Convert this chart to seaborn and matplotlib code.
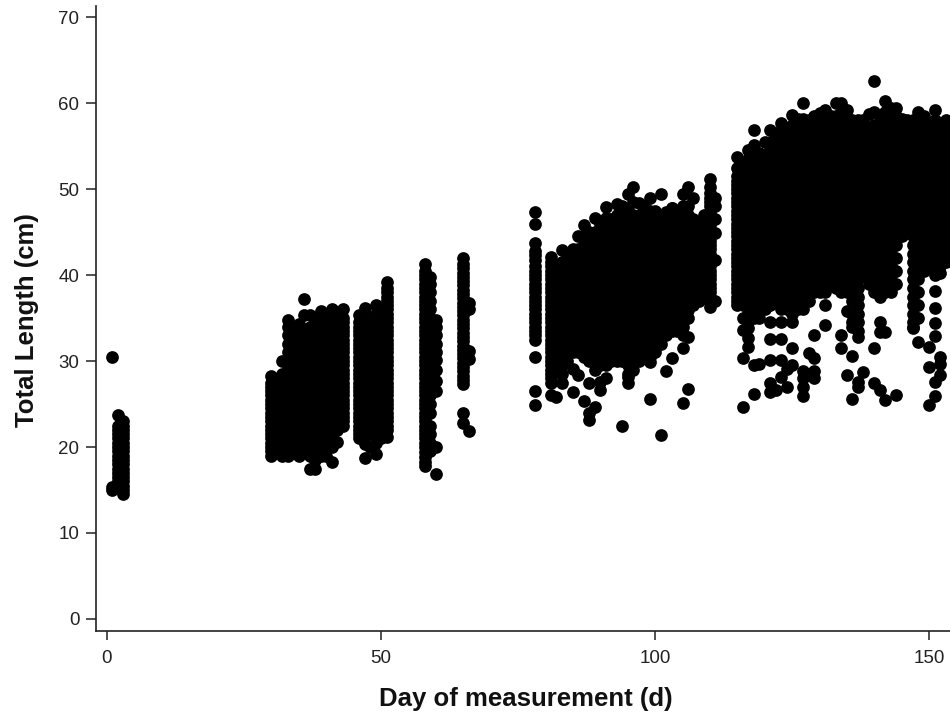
import pandas as pd
import matplotlib
matplotlib.use('Agg')
import matplotlib.pyplot as plt
import seaborn as sns

days_early = [2, 3, 30, 32, 33, 35, 37, 39, 41, 43]
lengths_early = [
    [15.5, 16, 16.5, 17, 17.5, 18, 18.5, 19, 19.5, 20, 20.5, 21, 21.5, 22, 22.5, 23.7],
    [14.5, 15, 15.5, 16, 16.5, 17, 17.5, 18, 18.5, 19, 19.5, 20, 20.5, 21, 21.5, 22, 22.5, 23],
    [19, 19.5, 20, 20.5, 21, 21.5, 22, 22.5, 23, 23.5, 24, 24.5, 25, 25.5, 26, 26.5, 27, 27.5, 28.3],
    [19, 19.5, 20.5, 21.5, 22.5, 23.5, 24.5, 25.5, 26.5, 27.5, 28.5, 30],
    [19, 20, 21, 22, 23, 24, 25, 26, 27, 28, 29, 30, 31, 32, 33, 34, 34.8],
    [19, 19.5, 20.5, 21.5, 22.5, 23.5, 24.5, 25.5, 26.5, 27.5, 28.5, 29.5, 30.5, 31.5, 32.5, 33.5, 34.3],
    [17.4, 19, 20, 21, 22, 23, 24, 25, 26, 27, 28, 29, 30, 31, 32, 33, 34, 35.3],
    [19, 19.5, 20.5, 21.5, 22.5, 23.5, 24.5, 25.5, 26.5, 27.5, 28.5, 29.5, 30.5, 31.5, 32.5, 33.5, 34.5, 35.8],
    [18.3, 20, 21, 22, 23, 24, 25, 26, 27, 28, 29, 30, 31, 32, 33, 34, 35, 36],
    [22.5, 23, 23.5, 24, 24.5, 25, 25.5, 26, 26.5, 27, 27.5, 28, 28.5, 29, 29.5, 30, 30.5, 31, 31.5, 32, 32.5, 33, 33.5, 34, 34.5, 35, 36],
]
days_early_fill = [31, 34, 36, 38, 40, 42]
lengths_early_fill = [
    [20, 21.5, 23, 24.5, 26, 27.5],
    [20, 21.5, 23, 24.5, 26, 27.5, 29, 30.5, 32, 33.5],
    [20, 21.5, 23, 24.5, 26, 27.5, 29, 30.5, 32, 33.5, 35.3],
    [17.4, 18.5, 20, 21.5, 23, 24.5, 26, 27.5, 29, 30.5, 32, 33.5, 35],
    [19, 20.5, 22, 23.5, 25, 26.5, 28, 29.5, 31, 32.5, 34, 35.5],
    [20.6, 22, 23.5, 25, 26.5, 28, 29.5, 31, 32.5, 34, 35.5],
]

days_mid = [46, 47, 49, 51, 58, 59, 60, 65, 66, 78]
lengths_mid = [
    [21, 21.5, 22, 22.5, 23, 23.5, 24, 24.5, 25, 25.5, 26, 26.5, 27, 27.5, 28, 28.5, 29, 29.5, 30, 30.5, 31, 31.5, 32, 32.5, 33, 33.5, 34, 34.5, 35.4],
    [18.7, 20.3, 21.5, 22.5, 23.5, 24.5, 25.5, 26.5, 27.5, 28.5, 29.5, 30.5, 31.5, 32.5, 33.5, 34.5, 36.2],
    [19.2, 20.5, 22, 23, 24, 25, 26, 27, 28, 29, 30, 31, 32, 33, 34, 35.5, 36.5],
    [21.2, 22, 22.5, 23, 23.5, 24, 24.5, 25, 25.5, 26, 26.5, 27, 27.5, 28, 28.5, 29, 29.5, 30, 30.5, 31, 31.5, 32, 32.5, 33, 33.5, 34, 34.5, 35, 35.5, 36, 36.5, 37, 37.5, 38, 38.5, 39.2],
    [17.8, 18.3, 18.8, 19.4, 20, 20.5, 21, 21.5, 22, 22.5, 23, 23.5, 24, 24.5, 25, 25.5, 26, 26.5, 27, 27.5, 28, 28.5, 29, 29.5, 30, 30.5, 31, 31.5, 32, 32.5, 33, 33.5, 34, 34.5, 35, 35.5, 36, 36.5, 37, 37.5, 38, 38.5, 39, 39.5, 40, 40.5, 41.3],
    [19.5, 20.5, 21.5, 22.5, 24, 25, 26, 27, 28, 29, 30, 31, 32, 33, 34, 35, 36, 37, 38, 39, 39.8],
    [16.9, 20, 26.5, 27.7, 29, 30.1, 31, 32, 33, 34, 34.8],
    [22.8, 23.9, 27.3, 27.8, 28.3, 28.8, 29.3, 29.8, 30.3, 30.8, 31.3, 31.8, 32.3, 32.8, 33.3, 33.8, 34.3, 34.8, 35.3, 35.8, 36.3, 36.8, 37.3, 37.8, 38.3, 38.8, 39.3, 39.8, 40.3, 40.8, 41.3, 42],
    [21.9, 30.2, 31.2, 36, 36.7],
    [24.9, 26.5, 30.5, 32.5, 33, 33.5, 34, 34.5, 35, 35.5, 36, 36.5, 37, 37.5, 38, 38.5, 39, 39.5, 40, 40.5, 41, 41.8, 42.3, 42.8, 43.7, 45.9, 47.3],
]
days_mid_fill = [48, 50]
lengths_mid_fill = [
    [20, 21.5, 23, 24.5, 26, 27.5, 29, 30.5, 32, 33.5, 35],
    [21, 22.5, 24, 25.5, 27, 28.5, 30, 31.5, 33, 34.5, 36],
]

days_late = [81, 83, 85, 87, 89, 91, 93, 95, 97, 99, 101, 103, 105, 107, 109, 110]
lengths_late = [
    [27.4, 28, 28.5, 29, 29.5, 30, 30.5, 31, 31.5, 32, 32.5, 33, 33.5, 34, 34.5, 35, 35.5, 36, 36.5, 37, 37.5, 38, 38.5, 39, 39.5, 40, 40.5, 41, 41.5, 42.1],
    [28.5, 29.5, 30.5, 31.5, 32.5, 33.5, 34.5, 35.5, 36.5, 37.5, 38.5, 39.5, 40.5, 41.5, 42.9],
    [31, 32, 33, 34, 35, 36, 37, 38, 39, 40, 41, 42, 43],
    [30.5, 31.5, 32.5, 33.5, 34.5, 35.5, 36.5, 37.5, 38.5, 39.5, 40.5, 41.5, 42.5, 43.5, 44.5, 45.8],
    [29, 30, 31, 32, 33, 34, 35, 36, 37, 38, 39, 40, 41, 42, 43, 44, 45, 46.6],
    [29.5, 30.5, 31.5, 32.5, 33.5, 34.5, 35.5, 36.5, 37.5, 38.5, 39.5, 40.5, 41.5, 42.5, 43.5, 44.5, 45.5, 46.6, 47.9],
    [30, 31, 32, 33, 34, 35, 36, 37, 38, 39, 40, 41, 42, 43, 44, 45, 46, 47, 48.3],
    [27.4, 28.5, 29.5, 30.5, 31.5, 32.5, 33.5, 34.5, 35.5, 36.5, 37.5, 38.5, 39.5, 40.5, 41.5, 42.5, 43.5, 44.5, 45.5, 46.5, 47.5, 49.4],
    [30, 31, 32, 33, 34, 35, 36, 37, 38, 39, 40, 41, 42, 43, 44, 45, 46, 47, 48.4],
    [30.5, 31.5, 32.5, 33.5, 34.5, 35.5, 36.5, 37.5, 38.5, 39.5, 40.5, 41.5, 42.5, 43.5, 44.5, 45.5, 46.5, 47.5, 49],
    [32, 33, 34, 35, 36, 37, 38, 39, 40, 41, 42, 43, 44, 45, 46, 47, 49.4],
    [33.5, 34.5, 35.5, 36.5, 37.5, 38.5, 39.5, 40.5, 41.5, 42.5, 43.5, 44.5, 45.5, 46.5, 47.8],
    [33, 34, 35, 36, 37, 38, 39, 40, 41, 42, 43, 44, 45, 46, 47, 48, 49.4],
    [36.5, 37.5, 38.5, 39.5, 40.5, 41.5, 42.5, 43.5, 44.5, 45.5, 46.5, 49],
    [38, 39, 40, 41, 42, 43, 44, 45, 46, 47],
    [36.3, 37, 37.5, 38, 38.5, 39, 39.5, 40, 40.5, 41, 41.5, 42, 42.5, 43, 43.5, 44, 44.5, 45, 45.5, 46, 46.5, 47, 47.5, 48, 48.5, 49, 49.5, 50.3, 51.2],
]
days_late_fill = [82, 84, 86, 88, 90, 92, 94, 96, 98, 100, 102, 104, 106, 108]
lengths_late_fill = [
    [29, 30.5, 32, 33.5, 35, 36.5, 38, 39.5, 41],
    [30, 31.5, 33, 34.5, 36, 37.5, 39, 40.5, 42],
    [31, 32.5, 34, 35.5, 37, 38.5, 40, 41.5, 43, 44.5],
    [30, 31.5, 33, 34.5, 36, 37.5, 39, 40.5, 42, 43.5, 45],
    [29.5, 31, 32.5, 34, 35.5, 37, 38.5, 40, 41.5, 43, 44.5, 46],
    [30, 31.5, 33, 34.5, 36, 37.5, 39, 40.5, 42, 43.5, 45, 46.5],
    [30, 31.5, 33, 34.5, 36, 37.5, 39, 40.5, 42, 43.5, 45, 46.5, 48],
    [29, 30.5, 32, 33.5, 35, 36.5, 38, 39.5, 41, 42.5, 44, 45.5, 47, 48.5],
    [30.5, 32, 33.5, 35, 36.5, 38, 39.5, 41, 42.5, 44, 45.5, 47, 48],
    [31, 32.5, 34, 35.5, 37, 38.5, 40, 41.5, 43, 44.5, 46, 47.5],
    [33, 34.5, 36, 37.5, 39, 40.5, 42, 43.5, 45, 46.5],
    [33.5, 35, 36.5, 38, 39.5, 41, 42.5, 44, 45.5, 47],
    [35, 36.5, 38, 39.5, 41, 42.5, 44, 45.5, 47, 48],
    [37, 38.5, 40, 41.5, 43, 44.5, 46],
]

days_end = [115, 117, 119, 121, 123, 125, 127, 129, 131, 133, 135, 137, 139, 141, 143, 145, 147, 149, 151, 153]
lengths_end = [
    [36.5, 37, 37.5, 38, 38.5, 39, 39.5, 40, 40.5, 41, 41.5, 42, 42.5, 43, 43.5, 44, 44.5, 45, 45.5, 46, 46.5, 47, 47.5, 48, 48.5, 49, 49.5, 50, 50.5, 51, 51.5, 52.4, 53.7],
    [33.8, 34.5, 35.5, 36.5, 37.5, 38.5, 39.5, 40.5, 41.5, 42.5, 43.5, 44.5, 45.5, 46.5, 47.5, 48.5, 49.5, 50.5, 51.5, 52.5, 53.5, 54.5],
    [35, 36, 37, 38, 39, 40, 41, 42, 43, 44, 45, 46, 47, 48, 49, 50, 51, 52, 53, 54.2],
    [36.5, 37.5, 38.5, 39.5, 40.5, 41.5, 42.5, 43.5, 44.5, 45.5, 46.5, 47.5, 48.5, 49.5, 50.5, 51.5, 52.5, 53.5, 54.5, 55.5, 56.9],
    [36, 37, 38, 39, 40, 41, 42, 43, 44, 45, 46, 47, 48, 49, 50, 51, 52, 53, 54, 55, 56, 57.7],
    [35.5, 36.5, 37.5, 38.5, 39.5, 40.5, 41.5, 42.5, 43.5, 44.5, 45.5, 46.5, 47.5, 48.5, 49.5, 50.5, 51.5, 52.5, 53.5, 54.5, 55.5, 56.5, 57.5, 58.6],
    [36, 37, 38, 39, 40, 41, 42, 43, 44, 45, 46, 47, 48, 49, 50, 51, 52, 53, 54, 55, 56, 57, 58.2, 60],
    [38, 38.5, 39.5, 40.5, 41.5, 42.5, 43.5, 44.5, 45.5, 46.5, 47.5, 48.5, 49.5, 50.5, 51.5, 52.5, 53.5, 54.5, 55.5, 56.5, 57.5, 58.5],
    [38, 39, 40, 41, 42, 43, 44, 45, 46, 47, 48, 49, 50, 51, 52, 53, 54, 55, 56, 57, 58, 59.2],
    [38.5, 39.5, 40.5, 41.5, 42.5, 43.5, 44.5, 45.5, 46.5, 47.5, 48.5, 49.5, 50.5, 51.5, 52.5, 53.5, 54.5, 55.5, 56.5, 57.5, 58.5, 60],
    [38, 39, 40, 41, 42, 43, 44, 45, 46, 47, 48, 49, 50, 51, 52, 53, 54, 55, 56, 57, 58, 59.2],
    [33.5, 34.5, 35.5, 36.5, 37.5, 38.5, 39.5, 40.5, 41.5, 42.5, 43.5, 44.5, 45.5, 46.5, 47.5, 48.5, 49.5, 50.5, 51.5, 52.5, 53.5, 54.5, 55.5, 56.5, 57.5, 58],
    [39, 40, 41, 42, 43, 44, 45, 46, 47, 48, 49, 50, 51, 52, 53, 54, 55, 56, 57, 58.7],
    [37.5, 38.5, 39.5, 40.5, 41.5, 42.5, 43.5, 44.5, 45.5, 46.5, 47.5, 48.5, 49.5, 50.5, 51.5, 52.5, 53.5, 54.5, 55.5, 56.5, 57.5, 58.5],
    [38, 39, 40, 41, 42, 43, 44, 45, 46, 47, 48, 49, 50, 51, 52, 53, 54, 55, 56, 57, 58, 59.4],
    [44.5, 45.5, 46.5, 47.5, 48.5, 49.5, 50.5, 51.5, 52.5, 53.5, 54.5, 55.5, 56.5, 57.5, 58.2],
    [33.8, 34.5, 35.5, 36.5, 37.5, 38.5, 39.5, 40.5, 41.5, 42.5, 43.5, 44.5, 45.5, 46.5, 47.5, 48.5, 49.5, 50.5, 51.5, 52.5, 53.5, 54.5, 55.5, 56.5, 57.5, 58],
    [40.5, 41.5, 42.5, 43.5, 44.5, 45.5, 46.5, 47.5, 48.5, 49.5, 50.5, 51.5, 52.5, 53.5, 54.5, 55.5, 56.5, 57.5, 58.5],
    [40, 41, 42, 43, 44, 45, 46, 47, 48, 49, 50, 51, 52, 53, 54, 55, 56, 57, 58, 59.2],
    [41.5, 42.5, 43.5, 44.5, 45.5, 46.5, 47.5, 48.5, 49.5, 50.5, 51.5, 52.5, 53.5, 54.5, 55.5, 56.5, 57.5, 58],
]
days_end_fill = [116, 118, 120, 122, 124, 126, 128, 130, 132, 134, 136, 138, 140, 142, 144, 146, 148, 150, 152]
lengths_end_fill = [
    [35, 36.5, 38, 39.5, 41, 42.5, 44, 45.5, 47, 48.5, 50, 51.5, 53],
    [35, 36.5, 38, 39.5, 41, 42.5, 44, 45.5, 47, 48.5, 50, 51.5, 53, 54.3],
    [36, 37.5, 39, 40.5, 42, 43.5, 45, 46.5, 48, 49.5, 51, 52.5, 54, 55.5],
    [37, 38.5, 40, 41.5, 43, 44.5, 46, 47.5, 49, 50.5, 52, 53.5, 55, 56.5],
    [36, 37.5, 39, 40.5, 42, 43.5, 45, 46.5, 48, 49.5, 51, 52.5, 54, 55.5, 57],
    [36, 37.5, 39, 40.5, 42, 43.5, 45, 46.5, 48, 49.5, 51, 52.5, 54, 55.5, 57, 58.2],
    [37, 38.5, 40, 41.5, 43, 44.5, 46, 47.5, 49, 50.5, 52, 53.5, 55, 56.5, 58],
    [38, 39.5, 41, 42.5, 44, 45.5, 47, 48.5, 50, 51.5, 53, 54.5, 56, 57.5, 58.8],
    [39, 40.5, 42, 43.5, 45, 46.5, 48, 49.5, 51, 52.5, 54, 55.5, 57, 58.5],
    [38, 39.5, 41, 42.5, 44, 45.5, 47, 48.5, 50, 51.5, 53, 54.5, 56, 57.5, 59, 60],
    [34, 35.5, 37, 38.5, 40, 41.5, 43, 44.5, 46, 47.5, 49, 50.5, 52, 53.5, 55, 56.5, 58],
    [40, 41.5, 43, 44.5, 46, 47.5, 49, 50.5, 52, 53.5, 55, 56.5, 58],
    [38, 39.5, 41, 42.5, 44, 45.5, 47, 48.5, 50, 51.5, 53, 54.5, 56, 57.5, 59],
    [38, 39.5, 41, 42.5, 44, 45.5, 47, 48.5, 50, 51.5, 53, 54.5, 56, 57.5, 59],
    [39, 40.5, 42, 43.5, 45, 46.5, 48, 49.5, 51, 52.5, 54, 55.5, 57, 58.5],
    [45, 46.5, 48, 49.5, 51, 52.5, 54, 55.5, 57, 58],
    [35, 36.5, 38, 39.5, 41, 42.5, 44, 45.5, 47, 48.5, 50, 51.5, 53, 54.5, 56, 57.5, 59],
    [41, 42.5, 44, 45.5, 47, 48.5, 50, 51.5, 53, 54.5, 56, 57.5],
    [41, 42.5, 44, 45.5, 47, 48.5, 50, 51.5, 53, 54.5, 56, 57.5],
]

# Stray measurements outside the solid blocks
stray_days = [1, 1, 1, 36, 81, 82, 83, 85, 85, 87, 88, 88, 89, 90, 91, 94, 99, 99, 101, 102, 103, 105, 105, 106, 106, 106,
              86, 88, 90, 93, 95, 96, 102, 103, 106, 111, 111, 111, 111, 111, 111,
              116, 116, 116, 117, 118, 118, 118, 119, 121, 123, 125, 121, 123, 125, 129, 131, 131, 121, 123, 128, 129, 125,
              127, 129, 124, 123, 129, 127, 121, 122, 124, 121, 127, 127, 117, 117,
              134, 137, 140, 134, 136, 135, 138, 137, 137, 140, 141, 142, 136, 144, 141, 141, 142, 135, 136,
              140, 142, 144, 147, 148, 150, 151, 151, 151, 152, 150, 152, 152, 151, 151, 150, 151, 152, 118]
stray_lengths = [30.5, 15.3, 15, 37.2, 26, 25.8, 27.4, 29.1, 26.4, 25.3, 23.1, 24, 24.7, 26.6, 28, 22.5, 25.6, 29.9, 21.4, 28.8, 30.4, 25.1, 31.5, 26.7, 32.8, 35.9,
                 28.4, 27.4, 27.6, 30.5, 28.2, 50.2, 47.3, 47.8, 50.2, 37, 41.7, 44.9, 46.5, 48, 49,
                 24.7, 30.4, 33.6, 32.7, 26.2, 55.1, 56.9, 29.7, 34.6, 34.6, 34.6, 32.6, 32.6, 31.5, 33, 34.2, 36.5, 30.1, 30.1, 30.9, 30.3, 29.5,
                 28.9, 28.9, 29.1, 28.2, 28, 28, 27.4, 26.6, 27, 26.4, 27, 25.9, 31.6, 35,
                 33, 32.8, 31.5, 31.5, 30.6, 28.4, 28.7, 27.6, 27, 27.4, 26.6, 25.5, 25.6, 26, 34.6, 33.4, 33.4, 35.8, 34.6,
                 62.6, 60.2, 59.4, 34, 32.2, 31.6, 36.2, 34.4, 32.9, 30.5, 29.3, 29.6, 28.4, 27.6, 25.9, 24.9, 38.1, 40.2, 29.5]

# Long table for seaborn
rows = []
groups = [(days_early, lengths_early), (days_early_fill, lengths_early_fill),
          (days_mid, lengths_mid), (days_mid_fill, lengths_mid_fill),
          (days_late, lengths_late), (days_late_fill, lengths_late_fill),
          (days_end, lengths_end), (days_end_fill, lengths_end_fill)]
for days, lengths in groups:
    for d, vals in zip(days, lengths):
        for v in vals:
            rows.append((d, v))
df = pd.DataFrame(rows, columns=['day', 'length'])
df = pd.concat([df, pd.DataFrame({'day': stray_days, 'length': stray_lengths})])

sns.set_style('ticks')
plt.rcParams['font.family'] = ['Liberation Sans', 'DejaVu Sans']

fig = plt.figure(figsize=(9.5, 7.13), dpi=100)
ax = fig.add_axes([96 / 950, 82 / 713, 854 / 950, 625 / 713])

sns.scatterplot(data=df, x='day', y='length', color='black', s=84, linewidth=0, ax=ax)

ax.set_xlim(-2, 153.8)
ax.set_ylim(-1.4, 71.3)
ax.set_xticks([0, 50, 100, 150])
ax.set_yticks([0, 10, 20, 30, 40, 50, 60, 70])
ax.tick_params(axis='y', length=7, width=1.1, color='#222222', labelcolor='#222222', labelsize=13.5, pad=5)
ax.tick_params(axis='x', length=6.5, width=1.1, color='#222222', labelcolor='#222222', labelsize=13.5, pad=7)

ax.set_xlabel('Day of measurement (d)', fontsize=18.5, fontweight='bold', color='#111111')
ax.set_ylabel('Total Length (cm)', fontsize=18.5, fontweight='bold', color='#111111')
ax.xaxis.set_label_coords(0.503, -0.09)
ax.yaxis.set_label_coords(-0.0665, 0.497)

sns.despine(ax=ax)
for side in ['left', 'bottom']:
    ax.spines[side].set_linewidth(1.2)
    ax.spines[side].set_color('#222222')

plt.savefig('out.png', dpi=100)
